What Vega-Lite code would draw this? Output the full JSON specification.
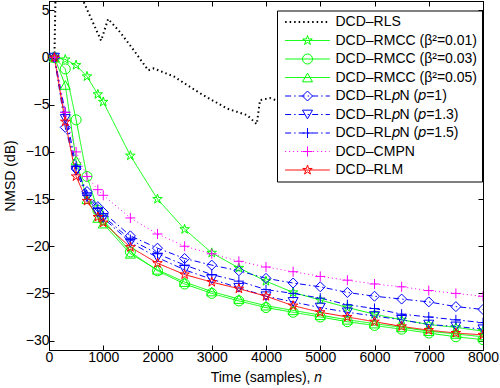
{
  "$schema": "https://vega.github.io/schema/vega-lite/v6.json",
  "width": 434,
  "height": 349,
  "autosize": {"type": "none"},
  "padding": {"left": 49, "top": 1, "right": 17, "bottom": 38},
  "config": {
    "font": "Liberation Sans",
    "view": {"stroke": "black", "strokeWidth": 1},
    "axis": {"labelFont": "Liberation Sans", "titleFont": "Liberation Sans", "labelFontSize": 14, "titleFontSize": 14, "titleFontWeight": "normal", "labelColor": "black", "titleColor": "black", "domainColor": "black", "tickColor": "black", "grid": false, "tickSize": -5, "labelPadding": 5, "labelFlush": false, "labelOverlap": false},
    "legend": {"labelFont": "Liberation Sans", "labelFontSize": 14, "labelColor": "black"}
  },
  "data": {"values": [
    {"series":"DCD–RLS","n":100,"nmsd":0},{"series":"DCD–RLS","n":130,"nmsd":10},{"series":"DCD–RLS","n":400,"nmsd":9},{"series":"DCD–RLS","n":600,"nmsd":6.4},{"series":"DCD–RLS","n":960,"nmsd":1.8},{"series":"DCD–RLS","n":1090,"nmsd":4.1},{"series":"DCD–RLS","n":1310,"nmsd":2.7},{"series":"DCD–RLS","n":1560,"nmsd":0.8},{"series":"DCD–RLS","n":1830,"nmsd":-1.35},{"series":"DCD–RLS","n":1930,"nmsd":-1.15},{"series":"DCD–RLS","n":2300,"nmsd":-2.0},{"series":"DCD–RLS","n":2790,"nmsd":-3.8},{"series":"DCD–RLS","n":3280,"nmsd":-5.4},{"series":"DCD–RLS","n":3650,"nmsd":-6.1},{"series":"DCD–RLS","n":3830,"nmsd":-7.05},{"series":"DCD–RLS","n":3890,"nmsd":-4.5},{"series":"DCD–RLS","n":4080,"nmsd":-4.3},{"series":"DCD–RLS","n":4500,"nmsd":-5.2},{"series":"DCD–RLS","n":5000,"nmsd":-6.2},{"series":"DCD–RLS","n":5500,"nmsd":-7.0},{"series":"DCD–RLS","n":6000,"nmsd":-7.8},{"series":"DCD–RLS","n":6500,"nmsd":-8.6},{"series":"DCD–RLS","n":7000,"nmsd":-9.4},{"series":"DCD–RLS","n":7500,"nmsd":-10.2},{"series":"DCD–RLS","n":8000,"nmsd":-11.0},

    {"series":"DCD–RMCC (β²=0.01)","n":100,"nmsd":0},{"series":"DCD–RMCC (β²=0.01)","n":300,"nmsd":-0.2},{"series":"DCD–RMCC (β²=0.01)","n":500,"nmsd":-0.8},{"series":"DCD–RMCC (β²=0.01)","n":700,"nmsd":-2.0},{"series":"DCD–RMCC (β²=0.01)","n":900,"nmsd":-3.9},{"series":"DCD–RMCC (β²=0.01)","n":1000,"nmsd":-4.7},{"series":"DCD–RMCC (β²=0.01)","n":1500,"nmsd":-10.4},{"series":"DCD–RMCC (β²=0.01)","n":2000,"nmsd":-15.0},{"series":"DCD–RMCC (β²=0.01)","n":2500,"nmsd":-18.2},{"series":"DCD–RMCC (β²=0.01)","n":3000,"nmsd":-20.7},{"series":"DCD–RMCC (β²=0.01)","n":3500,"nmsd":-22.3},{"series":"DCD–RMCC (β²=0.01)","n":4000,"nmsd":-23.7},{"series":"DCD–RMCC (β²=0.01)","n":4500,"nmsd":-24.9},{"series":"DCD–RMCC (β²=0.01)","n":5000,"nmsd":-25.7},{"series":"DCD–RMCC (β²=0.01)","n":5500,"nmsd":-26.5},{"series":"DCD–RMCC (β²=0.01)","n":6000,"nmsd":-27.2},{"series":"DCD–RMCC (β²=0.01)","n":6500,"nmsd":-27.8},{"series":"DCD–RMCC (β²=0.01)","n":7000,"nmsd":-28.3},{"series":"DCD–RMCC (β²=0.01)","n":7500,"nmsd":-28.6},{"series":"DCD–RMCC (β²=0.01)","n":8000,"nmsd":-29.0},

    {"series":"DCD–RMCC (β²=0.03)","n":100,"nmsd":0},{"series":"DCD–RMCC (β²=0.03)","n":300,"nmsd":-1.2},{"series":"DCD–RMCC (β²=0.03)","n":500,"nmsd":-6.6},{"series":"DCD–RMCC (β²=0.03)","n":700,"nmsd":-12.6},{"series":"DCD–RMCC (β²=0.03)","n":900,"nmsd":-16.2},{"series":"DCD–RMCC (β²=0.03)","n":1000,"nmsd":-17.2},{"series":"DCD–RMCC (β²=0.03)","n":1500,"nmsd":-20.6},{"series":"DCD–RMCC (β²=0.03)","n":2000,"nmsd":-22.6},{"series":"DCD–RMCC (β²=0.03)","n":2500,"nmsd":-24.0},{"series":"DCD–RMCC (β²=0.03)","n":3000,"nmsd":-25.0},{"series":"DCD–RMCC (β²=0.03)","n":3500,"nmsd":-25.8},{"series":"DCD–RMCC (β²=0.03)","n":4000,"nmsd":-26.5},{"series":"DCD–RMCC (β²=0.03)","n":4500,"nmsd":-27.0},{"series":"DCD–RMCC (β²=0.03)","n":5000,"nmsd":-27.5},{"series":"DCD–RMCC (β²=0.03)","n":5500,"nmsd":-28.0},{"series":"DCD–RMCC (β²=0.03)","n":6000,"nmsd":-28.4},{"series":"DCD–RMCC (β²=0.03)","n":6500,"nmsd":-28.8},{"series":"DCD–RMCC (β²=0.03)","n":7000,"nmsd":-29.2},{"series":"DCD–RMCC (β²=0.03)","n":7500,"nmsd":-29.6},{"series":"DCD–RMCC (β²=0.03)","n":8000,"nmsd":-29.9},

    {"series":"DCD–RMCC (β²=0.05)","n":100,"nmsd":0},{"series":"DCD–RMCC (β²=0.05)","n":300,"nmsd":-2.9},{"series":"DCD–RMCC (β²=0.05)","n":500,"nmsd":-10.9},{"series":"DCD–RMCC (β²=0.05)","n":700,"nmsd":-15.0},{"series":"DCD–RMCC (β²=0.05)","n":900,"nmsd":-17.0},{"series":"DCD–RMCC (β²=0.05)","n":1000,"nmsd":-17.6},{"series":"DCD–RMCC (β²=0.05)","n":1500,"nmsd":-20.8},{"series":"DCD–RMCC (β²=0.05)","n":2000,"nmsd":-22.5},{"series":"DCD–RMCC (β²=0.05)","n":2500,"nmsd":-23.8},{"series":"DCD–RMCC (β²=0.05)","n":3000,"nmsd":-24.8},{"series":"DCD–RMCC (β²=0.05)","n":3500,"nmsd":-25.6},{"series":"DCD–RMCC (β²=0.05)","n":4000,"nmsd":-26.3},{"series":"DCD–RMCC (β²=0.05)","n":4500,"nmsd":-26.8},{"series":"DCD–RMCC (β²=0.05)","n":5000,"nmsd":-27.3},{"series":"DCD–RMCC (β²=0.05)","n":5500,"nmsd":-27.8},{"series":"DCD–RMCC (β²=0.05)","n":6000,"nmsd":-28.2},{"series":"DCD–RMCC (β²=0.05)","n":6500,"nmsd":-28.6},{"series":"DCD–RMCC (β²=0.05)","n":7000,"nmsd":-29.0},{"series":"DCD–RMCC (β²=0.05)","n":7500,"nmsd":-29.3},{"series":"DCD–RMCC (β²=0.05)","n":8000,"nmsd":-29.6},

    {"series":"DCD–RL𝑝N (𝑝=1)","n":100,"nmsd":0},{"series":"DCD–RL𝑝N (𝑝=1)","n":300,"nmsd":-7.4},{"series":"DCD–RL𝑝N (𝑝=1)","n":500,"nmsd":-11.8},{"series":"DCD–RL𝑝N (𝑝=1)","n":700,"nmsd":-14.2},{"series":"DCD–RL𝑝N (𝑝=1)","n":900,"nmsd":-15.8},{"series":"DCD–RL𝑝N (𝑝=1)","n":1000,"nmsd":-16.4},{"series":"DCD–RL𝑝N (𝑝=1)","n":1500,"nmsd":-18.9},{"series":"DCD–RL𝑝N (𝑝=1)","n":2000,"nmsd":-20.2},{"series":"DCD–RL𝑝N (𝑝=1)","n":2500,"nmsd":-21.3},{"series":"DCD–RL𝑝N (𝑝=1)","n":3000,"nmsd":-22.0},{"series":"DCD–RL𝑝N (𝑝=1)","n":3500,"nmsd":-22.6},{"series":"DCD–RL𝑝N (𝑝=1)","n":4000,"nmsd":-23.4},{"series":"DCD–RL𝑝N (𝑝=1)","n":4500,"nmsd":-23.9},{"series":"DCD–RL𝑝N (𝑝=1)","n":5000,"nmsd":-24.3},{"series":"DCD–RL𝑝N (𝑝=1)","n":5500,"nmsd":-24.9},{"series":"DCD–RL𝑝N (𝑝=1)","n":6000,"nmsd":-25.3},{"series":"DCD–RL𝑝N (𝑝=1)","n":6500,"nmsd":-25.6},{"series":"DCD–RL𝑝N (𝑝=1)","n":7000,"nmsd":-25.9},{"series":"DCD–RL𝑝N (𝑝=1)","n":7500,"nmsd":-26.4},{"series":"DCD–RL𝑝N (𝑝=1)","n":8000,"nmsd":-26.7},

    {"series":"DCD–RL𝑝N (𝑝=1.3)","n":100,"nmsd":0},{"series":"DCD–RL𝑝N (𝑝=1.3)","n":300,"nmsd":-6.5},{"series":"DCD–RL𝑝N (𝑝=1.3)","n":500,"nmsd":-12.0},{"series":"DCD–RL𝑝N (𝑝=1.3)","n":700,"nmsd":-14.8},{"series":"DCD–RL𝑝N (𝑝=1.3)","n":900,"nmsd":-16.4},{"series":"DCD–RL𝑝N (𝑝=1.3)","n":1000,"nmsd":-17.0},{"series":"DCD–RL𝑝N (𝑝=1.3)","n":1500,"nmsd":-19.6},{"series":"DCD–RL𝑝N (𝑝=1.3)","n":2000,"nmsd":-21.2},{"series":"DCD–RL𝑝N (𝑝=1.3)","n":2500,"nmsd":-22.5},{"series":"DCD–RL𝑝N (𝑝=1.3)","n":3000,"nmsd":-23.5},{"series":"DCD–RL𝑝N (𝑝=1.3)","n":3500,"nmsd":-24.4},{"series":"DCD–RL𝑝N (𝑝=1.3)","n":4000,"nmsd":-25.3},{"series":"DCD–RL𝑝N (𝑝=1.3)","n":4500,"nmsd":-25.9},{"series":"DCD–RL𝑝N (𝑝=1.3)","n":5000,"nmsd":-26.5},{"series":"DCD–RL𝑝N (𝑝=1.3)","n":5500,"nmsd":-27.0},{"series":"DCD–RL𝑝N (𝑝=1.3)","n":6000,"nmsd":-27.4},{"series":"DCD–RL𝑝N (𝑝=1.3)","n":6500,"nmsd":-27.8},{"series":"DCD–RL𝑝N (𝑝=1.3)","n":7000,"nmsd":-28.3},{"series":"DCD–RL𝑝N (𝑝=1.3)","n":7500,"nmsd":-28.5},{"series":"DCD–RL𝑝N (𝑝=1.3)","n":8000,"nmsd":-28.8},

    {"series":"DCD–RL𝑝N (𝑝=1.5)","n":100,"nmsd":0},{"series":"DCD–RL𝑝N (𝑝=1.5)","n":300,"nmsd":-5.8},{"series":"DCD–RL𝑝N (𝑝=1.5)","n":500,"nmsd":-11.5},{"series":"DCD–RL𝑝N (𝑝=1.5)","n":700,"nmsd":-14.6},{"series":"DCD–RL𝑝N (𝑝=1.5)","n":900,"nmsd":-16.0},{"series":"DCD–RL𝑝N (𝑝=1.5)","n":1000,"nmsd":-16.8},{"series":"DCD–RL𝑝N (𝑝=1.5)","n":1500,"nmsd":-19.3},{"series":"DCD–RL𝑝N (𝑝=1.5)","n":2000,"nmsd":-20.8},{"series":"DCD–RL𝑝N (𝑝=1.5)","n":2500,"nmsd":-22.0},{"series":"DCD–RL𝑝N (𝑝=1.5)","n":3000,"nmsd":-23.0},{"series":"DCD–RL𝑝N (𝑝=1.5)","n":3500,"nmsd":-23.7},{"series":"DCD–RL𝑝N (𝑝=1.5)","n":4000,"nmsd":-24.6},{"series":"DCD–RL𝑝N (𝑝=1.5)","n":4500,"nmsd":-25.0},{"series":"DCD–RL𝑝N (𝑝=1.5)","n":5000,"nmsd":-25.5},{"series":"DCD–RL𝑝N (𝑝=1.5)","n":5500,"nmsd":-26.2},{"series":"DCD–RL𝑝N (𝑝=1.5)","n":6000,"nmsd":-26.6},{"series":"DCD–RL𝑝N (𝑝=1.5)","n":6500,"nmsd":-27.2},{"series":"DCD–RL𝑝N (𝑝=1.5)","n":7000,"nmsd":-27.5},{"series":"DCD–RL𝑝N (𝑝=1.5)","n":7500,"nmsd":-27.8},{"series":"DCD–RL𝑝N (𝑝=1.5)","n":8000,"nmsd":-28.1},

    {"series":"DCD–CMPN","n":100,"nmsd":0},{"series":"DCD–CMPN","n":300,"nmsd":-5.8},{"series":"DCD–CMPN","n":500,"nmsd":-10.0},{"series":"DCD–CMPN","n":700,"nmsd":-12.6},{"series":"DCD–CMPN","n":900,"nmsd":-14.0},{"series":"DCD–CMPN","n":1000,"nmsd":-14.6},{"series":"DCD–CMPN","n":1500,"nmsd":-17.0},{"series":"DCD–CMPN","n":2000,"nmsd":-18.7},{"series":"DCD–CMPN","n":2500,"nmsd":-20.0},{"series":"DCD–CMPN","n":3000,"nmsd":-20.8},{"series":"DCD–CMPN","n":3500,"nmsd":-21.6},{"series":"DCD–CMPN","n":4000,"nmsd":-22.2},{"series":"DCD–CMPN","n":4500,"nmsd":-22.7},{"series":"DCD–CMPN","n":5000,"nmsd":-23.2},{"series":"DCD–CMPN","n":5500,"nmsd":-23.6},{"series":"DCD–CMPN","n":6000,"nmsd":-24.0},{"series":"DCD–CMPN","n":6500,"nmsd":-24.3},{"series":"DCD–CMPN","n":7000,"nmsd":-24.7},{"series":"DCD–CMPN","n":7500,"nmsd":-25.0},{"series":"DCD–CMPN","n":8000,"nmsd":-25.3},

    {"series":"DCD–RLM","n":100,"nmsd":0},{"series":"DCD–RLM","n":300,"nmsd":-6.8},{"series":"DCD–RLM","n":500,"nmsd":-12.6},{"series":"DCD–RLM","n":700,"nmsd":-15.2},{"series":"DCD–RLM","n":900,"nmsd":-16.9},{"series":"DCD–RLM","n":1000,"nmsd":-17.5},{"series":"DCD–RLM","n":1500,"nmsd":-20.1},{"series":"DCD–RLM","n":2000,"nmsd":-21.8},{"series":"DCD–RLM","n":2500,"nmsd":-23.0},{"series":"DCD–RLM","n":3000,"nmsd":-23.8},{"series":"DCD–RLM","n":3500,"nmsd":-24.5},{"series":"DCD–RLM","n":4000,"nmsd":-25.3},{"series":"DCD–RLM","n":4500,"nmsd":-26.3},{"series":"DCD–RLM","n":5000,"nmsd":-27.0},{"series":"DCD–RLM","n":5500,"nmsd":-27.5},{"series":"DCD–RLM","n":6000,"nmsd":-28.0},{"series":"DCD–RLM","n":6500,"nmsd":-28.5},{"series":"DCD–RLM","n":7000,"nmsd":-28.9},{"series":"DCD–RLM","n":7500,"nmsd":-29.2},{"series":"DCD–RLM","n":8000,"nmsd":-29.4}
  ]},
  "resolve": {"axis": {"x": "independent", "y": "independent"}},
  "layer": [
    {
      "mark": {"type": "line", "clip": true},
      "encoding": {
        "x": {"field": "n", "type": "quantitative", "scale": {"domain": [0, 8000], "nice": false}, "axis": {"orient": "bottom", "title": "Time (samples), 𝑛", "format": "d", "values": [0,1000,2000,3000,4000,5000,6000,7000,8000], "titlePadding": 6}},
        "y": {"field": "nmsd", "type": "quantitative", "scale": {"domain": [-31, 6], "nice": false, "zero": false}, "axis": {"orient": "left", "title": "NMSD (dB)", "values": [5,0,-5,-10,-15,-20,-25,-30], "titlePadding": 8}},
        "color": {"field": "series", "type": "nominal",
          "scale": {"domain": ["DCD–RLS","DCD–RMCC (β²=0.01)","DCD–RMCC (β²=0.03)","DCD–RMCC (β²=0.05)","DCD–RL𝑝N (𝑝=1)","DCD–RL𝑝N (𝑝=1.3)","DCD–RL𝑝N (𝑝=1.5)","DCD–CMPN","DCD–RLM"],
                    "range": ["#000000","#00ff00","#00ff00","#00ff00","#0000ff","#0000ff","#0000ff","#ff00ff","#ff0000"]},
          "legend": {"orient": "none", "legendX": 228, "legendY": 9.5, "title": null, "symbolType": "M-4.47,0H4.47", "symbolSize": 100, "symbolStrokeWidth": 1, "symbolOffset": 19, "labelOffset": 21, "padding": 4.5, "rowPadding": 4.5, "strokeColor": "black", "fillColor": "white",
            "encode": {"symbols": {"update": {"strokeWidth": {"signal": "datum.value === 'DCD–RLS' ? 2 : 1"}, "fill": {"value": "transparent"}}}}}
        },
        "strokeDash": {"field": "series", "type": "nominal",
          "scale": {"domain": ["DCD–RLS","DCD–RMCC (β²=0.01)","DCD–RMCC (β²=0.03)","DCD–RMCC (β²=0.05)","DCD–RL𝑝N (𝑝=1)","DCD–RL𝑝N (𝑝=1.3)","DCD–RL𝑝N (𝑝=1.5)","DCD–CMPN","DCD–RLM"],
                    "range": [[1.5,3],[1,0],[1,0],[1,0],[6,3,1.5,3],[6,3,1.5,3],[6,3,1.5,3],[1,3],[1,0]]},
          "legend": {"orient": "none", "legendX": 228, "legendY": 9.5, "title": null}
        },
        "strokeWidth": {"condition": {"test": "datum.series === 'DCD–RLS'", "value": 2}, "value": 1}
      }
    },
    {
      "transform": [{"filter": "datum.series !== 'DCD–RLS'"}],
      "mark": {"type": "point", "filled": false, "clip": true, "size": 100, "strokeWidth": 1, "opacity": 1},
      "encoding": {
        "x": {"field": "n", "type": "quantitative", "axis": {"orient": "top", "labels": false, "title": null, "values": [0,1000,2000,3000,4000,5000,6000,7000,8000]}},
        "y": {"field": "nmsd", "type": "quantitative", "axis": {"orient": "right", "labels": false, "title": null, "values": [5,0,-5,-10,-15,-20,-25,-30]}},
        "stroke": {"field": "series", "type": "nominal",
          "scale": {"domain": ["DCD–RMCC (β²=0.01)","DCD–RMCC (β²=0.03)","DCD–RMCC (β²=0.05)","DCD–RL𝑝N (𝑝=1)","DCD–RL𝑝N (𝑝=1.3)","DCD–RL𝑝N (𝑝=1.5)","DCD–CMPN","DCD–RLM"],
                    "range": ["#00ff00","#00ff00","#00ff00","#0000ff","#0000ff","#0000ff","#ff00ff","#ff0000"]},
          "legend": {"orient": "none", "legendX": 228, "legendY": 28, "title": null, "symbolSize": 100, "symbolOffset": 19, "labelOffset": 21, "padding": 4.5, "rowPadding": 4.5, "labelOpacity": 0, "symbolStrokeWidth": 1, "symbolOpacity": 1}
        },
        "shape": {"field": "series", "type": "nominal",
          "scale": {"domain": ["DCD–RMCC (β²=0.01)","DCD–RMCC (β²=0.03)","DCD–RMCC (β²=0.05)","DCD–RL𝑝N (𝑝=1)","DCD–RL𝑝N (𝑝=1.3)","DCD–RL𝑝N (𝑝=1.5)","DCD–CMPN","DCD–RLM"],
                    "range": ["M0,-1L0.2245,-0.309L0.951,-0.309L0.363,0.118L0.588,0.809L0,0.382L-0.588,0.809L-0.363,0.118L-0.951,-0.309L-0.2245,-0.309Z","circle","triangle-up","diamond","triangle-down","M-1,0H1M0,-1V1","M-1,0H1M0,-1V1","M0,-1L0.2245,-0.309L0.951,-0.309L0.363,0.118L0.588,0.809L0,0.382L-0.588,0.809L-0.363,0.118L-0.951,-0.309L-0.2245,-0.309Z"]},
          "legend": {"orient": "none", "legendX": 228, "legendY": 28, "title": null, "symbolSize": 100, "symbolOffset": 19, "labelOffset": 21, "padding": 4.5, "rowPadding": 4.5, "labelOpacity": 0, "symbolStrokeWidth": 1, "symbolOpacity": 1}
        }
      }
    }
  ]
}
